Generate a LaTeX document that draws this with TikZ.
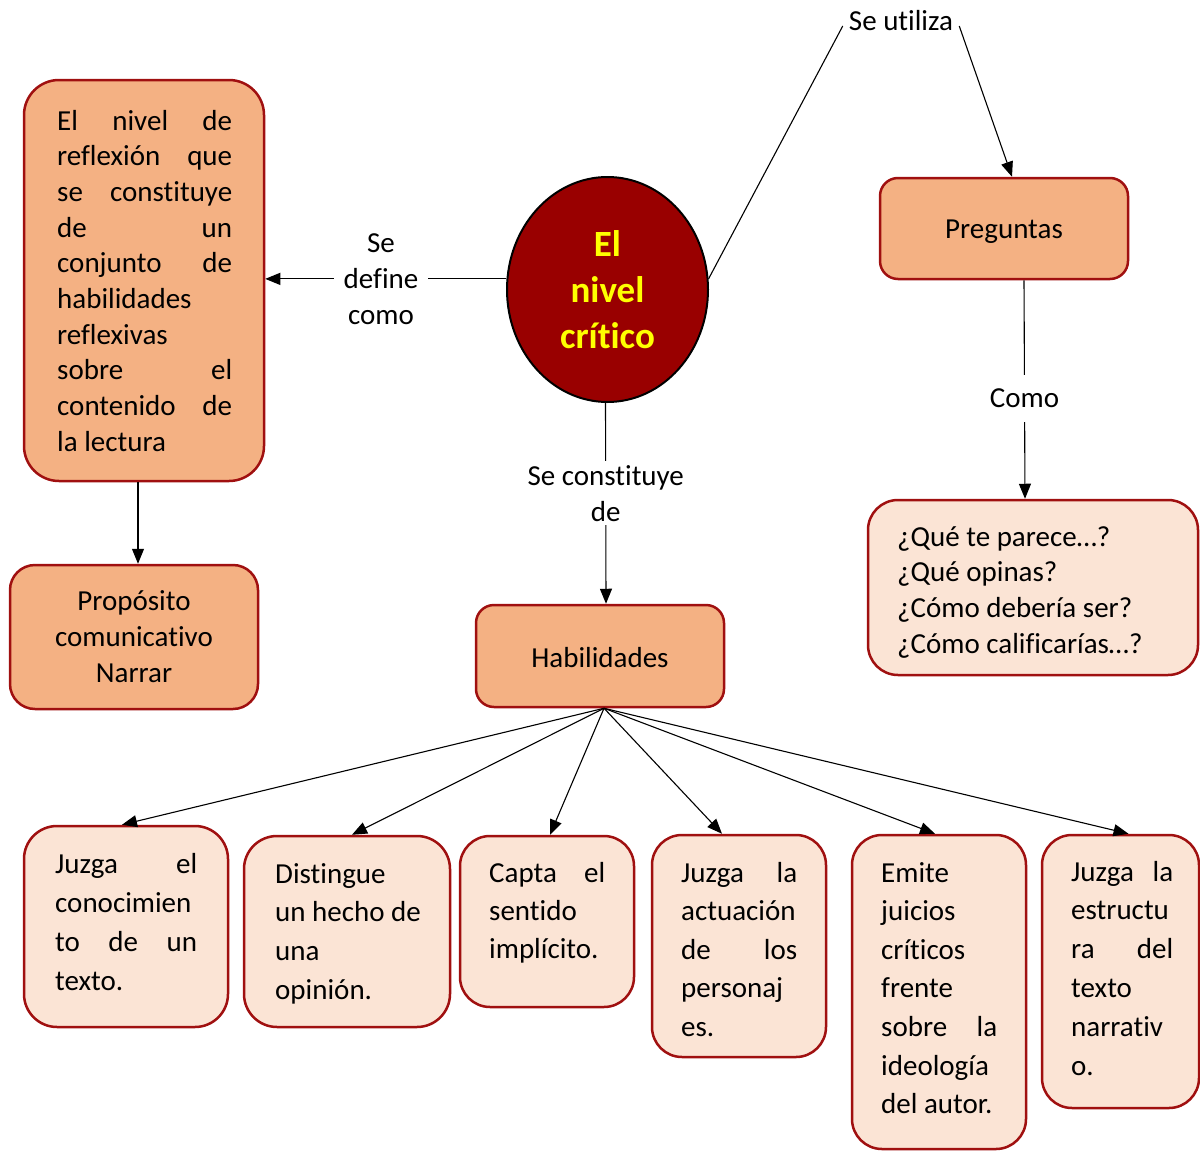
\documentclass[tikz,border=0pt]{standalone}
\usepackage{fontspec}
\setmainfont{Carlito}[Ligatures=CommonOff]
\usetikzlibrary{shapes.geometric,arrows.meta}
\definecolor{orng}{HTML}{F4B183}
\definecolor{lite}{HTML}{FBE4D5}
\definecolor{bord}{HTML}{A01010}
\definecolor{ecol}{HTML}{990000}
\definecolor{ytxt}{HTML}{FFFF00}
\newcommand\jl[2]{\hbox to #1{#2}}
\newcommand\lf[1]{\hbox{#1}}
\newcommand\txt{\fontsize{29}{36}\selectfont}
\newcommand\sinktxt[2]{\raisebox{-#1}[\height][\depth]{#2}}
\tikzset{
  obox/.style={draw=bord, line width=2.5pt, fill=orng, rounded corners=#1},
  lbox/.style={draw=bord, line width=2.5pt, fill=lite, rounded corners=#1},
  tx/.style={inner sep=0pt, anchor=base west},
  arr/.style={-{Triangle[length=15pt,width=12pt]}, line width=1.1pt},
  con/.style={line width=1.1pt},
  lbl/.style={fill=white, align=center, inner xsep=8pt, inner ysep=6pt}
}
\begin{document}
\begin{tikzpicture}[x=1pt, y=-1pt, font=\txt]
\useasboundingbox (0,0) rectangle (1200,1151);

% main boxes
\node[obox=35pt, minimum width=240pt, minimum height=401pt] (L) at (144,280.5) {};
\node[obox=25pt, minimum width=248pt, minimum height=144pt, align=center] (P) at (134,637) {Propósito\\comunicativo\\Narrar};
\node[ellipse, draw=black, line width=2pt, fill=ecol, minimum width=201pt, minimum height=225pt, inner sep=0pt,
      align=center, text=ytxt, font=\fontsize{37}{46}\selectfont\bfseries] (E) at (607.5,289.5) {El\\nivel\\crítico};
\node[obox=18pt, minimum width=248pt, minimum height=101pt] (Q) at (1004,228.5) {\sinktxt{3pt}{Preguntas}};
\node[lbox=30pt, minimum width=330pt, minimum height=175pt] (QQ) at (1033,587.5) {};
\node[obox=18pt, minimum width=248pt, minimum height=102pt] (H) at (600,656) {\sinktxt{1.5pt}{Habilidades}};

% bottom boxes
\node[lbox=33pt, minimum width=204pt, minimum height=201pt] (B1) at (126,926.5) {};
\node[lbox=33pt, minimum width=206pt, minimum height=191pt] (B2) at (347,931.5) {};
\node[lbox=30pt, minimum width=174pt, minimum height=171pt] (B3) at (547,921.5) {};
\node[lbox=30pt, minimum width=174pt, minimum height=222pt] (B4) at (739,946) {};
\node[lbox=30pt, minimum width=174pt, minimum height=314pt] (B5) at (939,992) {};
\node[lbox=30pt, minimum width=157pt, minimum height=273pt] (B6) at (1120.5,971.5) {};

% texts
\node[tx] (Lt) at (57,130) {\vtop{\baselineskip=35.7pt
  \jl{175pt}{El\hfill nivel\hfill de}
  \jl{175pt}{reflexión\hfill que}
  \jl{175pt}{se\hfill constituye}
  \jl{175pt}{de\hfill un}
  \jl{175pt}{conjunto\hfill de}
  \lf{habilidades}
  \lf{reflexivas}
  \jl{175pt}{sobre\hfill el}
  \jl{175pt}{contenido\hfill de}
  \lf{la lectura}}};
\node[tx] (QQt) at (897,546) {\vtop{\baselineskip=35.8pt
  \lf{¿Qué te parece…?}
  \lf{¿Qué opinas?}
  \lf{¿Cómo debería ser?}
  \lf{¿Cómo calificarías…?}}};
\node[tx] (B1t) at (55,873) {\vtop{\baselineskip=39pt
  \jl{142pt}{Juzga\hfill el}
  \lf{conocimien}
  \jl{142pt}{to\hfill de\hfill un}
  \lf{texto.}}};
\node[tx] (B2t) at (275,883) {\vtop{\baselineskip=38.8pt
  \lf{Distingue}
  \lf{un hecho de}
  \lf{una}
  \lf{opinión.}}};
\node[tx] (B3t) at (489,882) {\vtop{\baselineskip=38pt
  \jl{116pt}{Capta\hfill el}
  \lf{sentido}
  \lf{implícito.}}};
\node[tx] (B4t) at (681,882) {\vtop{\baselineskip=38.5pt
  \jl{116pt}{Juzga\hfill la}
  \lf{actuación}
  \jl{116pt}{de\hfill los}
  \lf{personaj}
  \lf{es.}}};
\node[tx] (B5t) at (881,882) {\vtop{\baselineskip=38.6pt
  \lf{Emite}
  \lf{juicios}
  \lf{críticos}
  \lf{frente}
  \jl{116pt}{sobre\hfill la}
  \lf{ideología}
  \lf{del autor.}}};
\node[tx] (B6t) at (1071,881) {\vtop{\baselineskip=38.8pt
  \jl{102pt}{Juzga\hfill la}
  \lf{estructu}
  \jl{102pt}{ra\hfill del}
  \lf{texto}
  \lf{narrativ}
  \lf{o.}}};

% connectors
\draw[arr] (E.174) -- node[lbl, pos=0.52, inner xsep=10pt, inner ysep=2pt] (ld) {Se\\define\\como} (L.east |- E.174);
\node[inner xsep=6pt, inner ysep=3pt] (su) at (901,21) {Se utiliza};
\draw[con] (E.6) -- ([yshift=-5pt]su.west);
\draw[arr] ([yshift=-5pt]su.east) -- ([xshift=8pt]Q.north);
\draw[arr] ([xshift=20pt]Q.south) -- node[lbl, pos=0.54, inner ysep=14pt] (co) {Como} ([xshift=-8pt]QQ.north);
\draw[arr] ([xshift=-2pt]E.south) -- node[lbl, pos=0.45, inner ysep=4pt] (sc) {Se constituye\\de} ([xshift=6pt]H.north);
\draw[arr] ([xshift=-6pt]L.south) -- ([xshift=4pt]P.north);

\coordinate (hs) at ([xshift=4pt]H.south);
\draw[arr] (hs) -- ([xshift=-4pt]B1.north);
\draw[arr] (hs) -- ([xshift=5pt]B2.north);
\draw[arr] (hs) -- ([xshift=3pt]B3.north);
\draw[arr] (hs) -- ([xshift=-17pt]B4.north);
\draw[arr] (hs) -- ([xshift=-4pt]B5.north);
\draw[arr] (hs) -- ([xshift=8pt]B6.north);
\end{tikzpicture}
\end{document}
